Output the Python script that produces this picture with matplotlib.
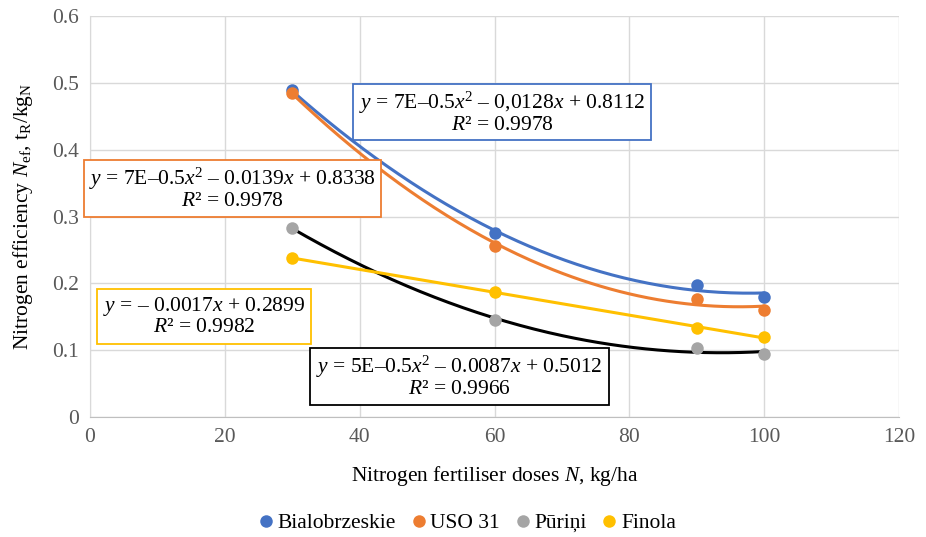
import numpy as np
import matplotlib
matplotlib.use("Agg")
import matplotlib.pyplot as plt
from matplotlib.patches import Rectangle
from matplotlib.lines import Line2D

plt.rcParams["font.family"] = ["Liberation Serif", "DejaVu Serif"]
plt.rcParams["mathtext.fontset"] = "custom"
plt.rcParams["mathtext.rm"] = "Liberation Serif"
plt.rcParams["mathtext.it"] = "Liberation Serif:italic"

# Nitrogen doses (kg/ha) and efficiency per cultivar (t_R/kg_N)
doses = [30, 60, 90, 100]
bialobrzeskie = [0.489, 0.275, 0.198, 0.180]
uso31 = [0.485, 0.256, 0.177, 0.160]
puriņi = [0.283, 0.145, 0.103, 0.094]
finola = [0.238, 0.187, 0.133, 0.120]

names = ["Bialobrzeskie", "USO 31", "Pūriņi", "Finola"]
colors = ["#4472C4", "#ED7D31", "#A5A5A5", "#FFC000"]
trend_colors = ["#4472C4", "#ED7D31", "#000000", "#FFC000"]
trend_orders = [2, 2, 2, 1]

equations = [
    "$y$ = 7E–0.5$x$$^2$ – 0,0128$x$ + 0.8112\n$R$² = 0.9978",
    "$y$ = 7E–0.5$x$$^2$ – 0.0139$x$ + 0.8338\n$R$² = 0.9978",
    "$y$ = 5E–0.5$x$$^2$ – 0.0087$x$ + 0.5012\n$R$² = 0.9966",
    "$y$ = – 0.0017$x$ + 0.2899\n$R$² = 0.9982",
]
# label boxes in figure pixels: (left, top, right, bottom)
boxes = [(353, 84, 651, 140), (84, 160, 381, 217), (310, 348, 609, 405), (97, 289, 311, 344)]

FS = 15.5
W, H = 926, 537
fig = plt.figure(figsize=(W / 100, H / 100), dpi=100)
ax = fig.add_axes([90 / W, 1 - 417 / H, (899 - 90) / W, (417 - 16) / H])

series = [bialobrzeskie, uso31, puriņi, finola]
xs = np.linspace(min(doses), max(doses), 200)
for vals, tc, order in zip(series, trend_colors, trend_orders):
    coef = np.polyfit(doses, vals, order)
    ax.plot(xs, np.polyval(coef, xs), color=tc, lw=2.2, zorder=3, solid_capstyle="round")
for vals, c in zip(series, colors):
    ax.plot(doses, vals, "o", color=c, ms=9, zorder=4, mec="none")

ax.set_xlim(0, 120)
ax.set_ylim(0, 0.6)
ax.set_xticks(np.arange(0, 121, 20))
ax.set_yticks(np.arange(0, 0.61, 0.1))
ax.set_yticklabels(["0", "0.1", "0.2", "0.3", "0.4", "0.5", "0.6"])
ax.grid(True, color="#D9D9D9", lw=1)
ax.set_axisbelow(True)
for s in ["top", "right"]:
    ax.spines[s].set_visible(False)
ax.spines["left"].set_color("#D9D9D9")
ax.spines["bottom"].set_color("#BFBFBF")
ax.tick_params(length=0, labelsize=FS, colors="#595959", pad=8)

ax.set_xlabel("Nitrogen fertiliser doses $N$, kg/ha", fontsize=FS, labelpad=12)
ax.set_ylabel("Nitrogen efficiency $N_{\\mathrm{ef}}$, t$_\\mathrm{R}$/kg$_\\mathrm{N}$",
              fontsize=FS, labelpad=12)

for (l, t, r, b), txt, ec in zip(boxes, equations, trend_colors):
    fig.patches.append(Rectangle((l / W, 1 - b / H), (r - l) / W, (b - t) / H,
                                 transform=fig.transFigure, facecolor="white",
                                 edgecolor=ec, lw=1.3, zorder=5))
    fig.text((l + r) / 2 / W, 1 - (t + b) / 2 / H, txt, ha="center", va="center",
             fontsize=FS, linespacing=1.0, zorder=6)

handles = [Line2D([], [], marker="o", ls="none", color=c, ms=9, mec="none") for c in colors]
fig.legend(handles, names, loc="center", bbox_to_anchor=(465 / W, 1 - 523 / H),
           ncol=4, frameon=False, fontsize=FS, handletextpad=0.0, columnspacing=0.5,
           handlelength=1.1)

fig.savefig("out.png", dpi=100)
